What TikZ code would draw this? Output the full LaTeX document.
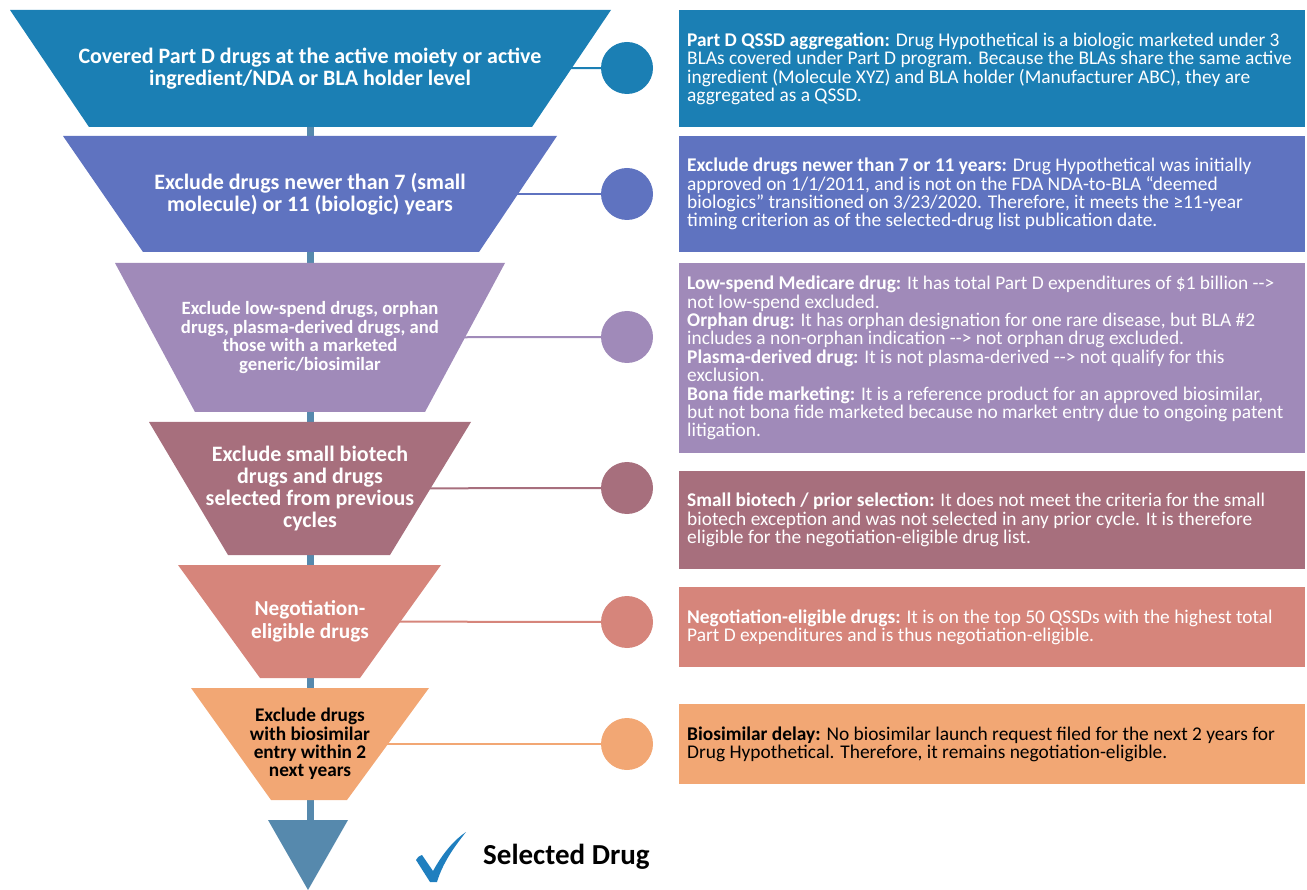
\documentclass[tikz,border=0pt]{standalone}
\usepackage{fontspec}
\setmainfont{Carlito}
\definecolor{c1}{HTML}{1B7FB4}
\definecolor{c2}{HTML}{5F73C0}
\definecolor{c3}{HTML}{A08AB9}
\definecolor{c4}{HTML}{A76F7D}
\definecolor{c5}{HTML}{D6857B}
\definecolor{c6}{HTML}{F2A774}
\definecolor{stemc}{HTML}{5689AD}
\definecolor{tickc}{HTML}{1F7FBF}
\begin{document}
\begin{tikzpicture}[x=1pt,y=-1pt,
  stage/.style={font=\bfseries, text=white, align=center, inner sep=0pt},
  dot/.style={circle, minimum size=52pt, inner sep=0pt},
  card/.style={rectangle, minimum width=626pt, inner sep=0pt, anchor=north west},
  cardtext/.style={anchor=west, align=left, inner sep=0pt,
    font=\fontsize{19.4}{18.4}\selectfont, text=white},
  link/.style={line width=2pt},
]
\useasboundingbox (0,0) rectangle (1307,890);

% centre points of the funnel stages
\coordinate (f1) at (310,68.5);
\coordinate (f2) at (310,194);
\coordinate (f3) at (310,337.5);
\coordinate (f4) at (310,488.5);
\coordinate (f5) at (310,621.5);
\coordinate (f6) at (310,744);
\coordinate (stemtop) at (310,120);
\coordinate (stembot) at (310,825);

% circles beside the funnel
\node[dot, fill=c1] (k1) at (627,68) {};
\node[dot, fill=c2] (k2) at (627,194) {};
\node[dot, fill=c3] (k3) at (627,337) {};
\node[dot, fill=c4] (k4) at (627,488) {};
\node[dot, fill=c5] (k5) at (627,622) {};
\node[dot, fill=c6] (k6) at (627,744) {};

% central stem and connectors (behind the stages)
\draw[stemc, line width=7pt] (stemtop) -- (stembot);
\draw[link, c1] (f1) -- (k1);
\draw[link, c2] (f2) -- (k2);
\draw[link, c3] (f3) -- (k3);
\draw[link, c4] (f4) -- (k4);
\draw[link, c5] (f5) -- (k5);
\draw[link, c6] (f6) -- (k6);

% funnel stages
\fill[c1] (10,10) -- (611,10) -- (532,127) -- (89,127) -- cycle;
\fill[c2] (63,136) -- (557,136) -- (479,252) -- (143,252) -- cycle;
\fill[c3] (115,263) -- (505,263) -- (425,412) -- (195,412) -- cycle;
\fill[c4] (149,422) -- (471,422) -- (390,555) -- (228,555) -- cycle;
\fill[c5] (178,565) -- (441,565) -- (360,678) -- (260,678) -- cycle;
\fill[c6] (191,688) -- (429,688) -- (347,800) -- (271,800) -- cycle;
% final arrow head
\fill[stemc] (268,820) -- (348,820) -- (308,890) -- cycle;

\node[stage, font=\fontsize{22}{22}\selectfont\bfseries] (s1) at (f1)
  {Covered Part D drugs at the active moiety or active\\ingredient/NDA or BLA holder level};
\node[stage, font=\fontsize{22}{22}\selectfont\bfseries] (s2) at (f2)
  {Exclude drugs newer than 7 (small\\molecule) or 11 (biologic) years};
\node[stage, font=\fontsize{18.7}{18.7}\selectfont\bfseries] (s3) at (f3)
  {Exclude low-spend drugs, orphan\\drugs, plasma-derived drugs, and\\those with a marketed\\generic/biosimilar};
\node[stage, font=\fontsize{22}{22}\selectfont\bfseries] (s4) at (f4)
  {Exclude small biotech\\drugs and drugs\\selected from previous\\cycles};
\node[stage, font=\fontsize{21.3}{22.5}\selectfont\bfseries] (s5) at (f5)
  {Negotiation-\\eligible drugs};
\node[stage, text=black, font=\fontsize{19.3}{18.3}\selectfont\bfseries] (s6) at (f6)
  {Exclude drugs\\with biosimilar\\entry within 2\\next years};

% explanation cards
\node[card, fill=c1, minimum height=117pt] (b1) at (679,10) {};
\node[card, fill=c2, minimum height=116pt] (b2) at (679,136) {};
\node[card, fill=c3, minimum height=190pt] (b3) at (679,263) {};
\node[card, fill=c4, minimum height=98pt] (b4) at (679,471) {};
\node[card, fill=c5, minimum height=80pt] (b5) at (679,587) {};
\node[card, fill=c6, minimum height=80pt] (b6) at (679,704) {};

\node[cardtext] (t1) at ([xshift=8pt]b1.west)
  {\textbf{Part D QSSD aggregation:} Drug Hypothetical is a biologic marketed under 3\\
   BLAs covered under Part D program. Because the BLAs share the same active\\
   ingredient (Molecule XYZ) and BLA holder (Manufacturer ABC), they are\\
   aggregated as a QSSD.};
\node[cardtext] (t2) at ([xshift=8pt]b2.west)
  {\textbf{Exclude drugs newer than 7 or 11 years:} Drug Hypothetical was initially\\
   approved on 1/1/2011, and is not on the FDA NDA-to-BLA “deemed\\
   biologics” transitioned on 3/23/2020. Therefore, it meets the ≥11-year\\
   timing criterion as of the selected-drug list publication date.};
\node[cardtext] (t3) at ([xshift=8pt]b3.west)
  {\textbf{Low-spend Medicare drug:} It has total Part D expenditures of \$1 billion -{}->\\
   not low-spend excluded.\\
   \textbf{Orphan drug:} It has orphan designation for one rare disease, but BLA \#2\\
   includes a non-orphan indication -{}-> not orphan drug excluded.\\
   \textbf{Plasma-derived drug:} It is not plasma-derived -{}-> not qualify for this\\
   exclusion.\\
   \textbf{Bona fide marketing:} It is a reference product for an approved biosimilar,\\
   but not bona fide marketed because no market entry due to ongoing patent\\
   litigation.};
\node[cardtext] (t4) at ([xshift=8pt]b4.west)
  {\textbf{Small biotech / prior selection:} It does not meet the criteria for the small\\
   biotech exception and was not selected in any prior cycle. It is therefore\\
   eligible for the negotiation-eligible drug list.};
\node[cardtext] (t5) at ([xshift=8pt]b5.west)
  {\textbf{Negotiation-eligible drugs:} It is on the top 50 QSSDs with the highest total\\
   Part D expenditures and is thus negotiation-eligible.};
\node[cardtext, text=black] (t6) at ([xshift=8pt]b6.west)
  {\textbf{Biosimilar delay:} No biosimilar launch request filed for the next 2 years for\\
   Drug Hypothetical. Therefore, it remains negotiation-eligible.};

% check mark and result label
\fill[tickc] (416,860) .. controls (418,857) and (420,855) .. (422,855)
  -- (433,871) .. controls (443,853) and (454,840) .. (466,832)
  .. controls (455,846) and (443,862) .. (437,882)
  -- (430,882) -- cycle;
\node[anchor=base west, inner sep=0pt, font=\fontsize{29}{32}\selectfont\bfseries] (sel) at (483,864) {Selected Drug};
\end{tikzpicture}
\end{document}
